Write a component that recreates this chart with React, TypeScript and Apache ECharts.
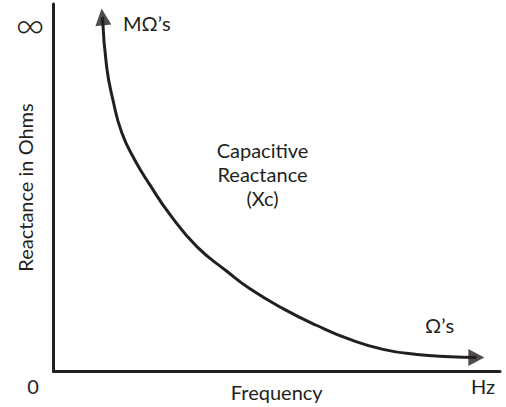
import React, { useEffect, useRef } from "react";
import * as echarts from "echarts";

// Curve (frequency vs reactance, arbitrary 0–100 scales)
const frequency = [10.97, 11.9, 13.3, 15.3, 18.2, 21.6, 26.1, 32.1, 38.9, 44.0, 51.4, 59.0, 66.4, 73.8, 81.4, 88.8, 94.7];
const reactance = [96.5, 82.9, 73.9, 64.9, 57.5, 50.7, 42.6, 33.9, 27.1, 22.4, 17.0, 12.4, 8.6, 5.9, 4.5, 3.9, 3.7];

const xAxisName = "Frequency";
const yAxisName = "Reactance in Ohms";
const xMinLabel = "0";
const xMaxLabel = "Hz";
const yMaxLabel = "∞";
const highLabel = "MΩ’s";
const lowLabel = "Ω’s";
const curveLabel = "Capacitive\nReactance\n(Xc)";

const INK = "#231f20";
const FONT = "Lato, 'Open Sans', sans-serif";

export default function App() {
  const ref = useRef<HTMLDivElement>(null);
  useEffect(() => {
    if (!ref.current) return;
    const chart = echarts.init(ref.current, undefined, { renderer: "svg" });
    const curve = frequency.map((f, i) => [f, reactance[i]]);
    const n = curve.length;
    chart.setOption({
      animation: false,
      backgroundColor: "#ffffff",
      grid: { left: 53.5, right: 6, top: 4, bottom: 35.5 },
      xAxis: {
        type: "value",
        min: 0,
        max: 100,
        name: xAxisName,
        nameLocation: "middle",
        nameGap: 11,
        nameTextStyle: { fontFamily: FONT, fontSize: 20, color: INK },
        axisLine: { show: true, lineStyle: { color: INK, width: 3 } },
        axisTick: { show: false },
        axisLabel: { show: false },
        splitLine: { show: false },
      },
      yAxis: {
        type: "value",
        min: 0,
        max: 100,
        name: yAxisName,
        nameLocation: "middle",
        nameGap: 19,
        nameTextStyle: { fontFamily: FONT, fontSize: 20, color: INK },
        axisLine: { show: true, lineStyle: { color: INK, width: 3 } },
        axisTick: { show: false },
        axisLabel: { show: false },
        splitLine: { show: false },
      },
      series: [
        {
          type: "line",
          data: curve,
          smooth: 0.5,
          showSymbol: false,
          symbol: "none",
          lineStyle: { color: INK, width: 3 },
          silent: true,
        },
        {
          type: "scatter",
          silent: true,
          itemStyle: { color: INK },
          data: [
            { value: curve[0], symbol: "triangle", symbolSize: [16, 17], symbolRotate: 6 },
            { value: curve[n - 1], symbol: "triangle", symbolSize: [17, 16], symbolRotate: -90 },
          ],
        },
      ],
      graphic: [
        { type: "text", x: 30, y: 24, style: { text: yMaxLabel, font: `300 40px ${FONT}`, fill: INK, align: "center", verticalAlign: "middle" } },
        { type: "text", x: 33, y: 386, style: { text: xMinLabel, font: `20px ${FONT}`, fill: INK, align: "center", verticalAlign: "middle" } },
        { type: "text", x: 495, y: 386, style: { text: xMaxLabel, font: `20px ${FONT}`, fill: INK, align: "right", verticalAlign: "middle" } },
        { type: "text", x: 123, y: 22.5, style: { text: highLabel, font: `20px ${FONT}`, fill: INK, align: "left", verticalAlign: "middle" } },
        { type: "text", x: 425, y: 325, style: { text: lowLabel, font: `20px ${FONT}`, fill: INK, align: "left", verticalAlign: "middle" } },
        { type: "text", x: 262.5, y: 174, style: { text: curveLabel, font: `20px ${FONT}`, lineHeight: 24, fill: INK, align: "center", verticalAlign: "middle" } },
      ],
    });
    return () => chart.dispose();
  }, []);
  return <div ref={ref} style={{ position: "absolute", left: 0, top: 0, width: 506, height: 407 }} />;
}
